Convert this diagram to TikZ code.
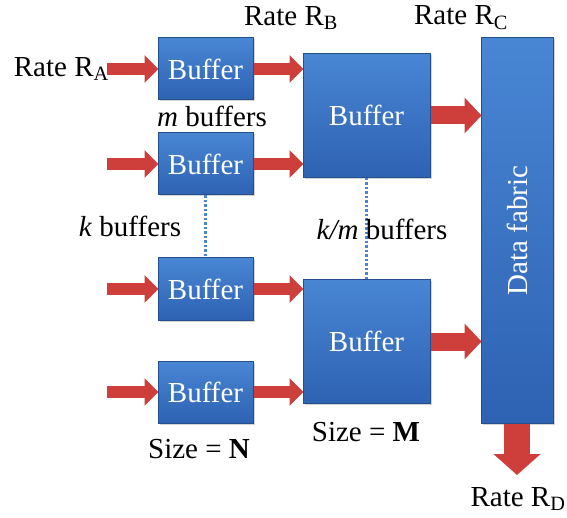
\documentclass[tikz,border=0pt]{standalone}
\usepackage{fontspec}
\setmainfont{Liberation Serif}
\usetikzlibrary{arrows.meta, shadows}

\definecolor{boxtop}{RGB}{72,134,212}
\definecolor{boxbot}{RGB}{46,98,178}
\definecolor{boxline}{RGB}{36,78,140}
\definecolor{flowred}{RGB}{206,62,58}

\begin{document}
\begin{tikzpicture}[x=1pt,y=-1pt,font=\fontsize{29}{32}\selectfont]

\tikzset{buffer/.style = {rectangle, draw=boxline, line width=1pt, top color=boxtop, bottom color=boxbot,
  text=white, minimum width=95pt, minimum height=62pt, inner sep=0pt, drop shadow={opacity=0.35, shadow xshift=1.5pt, shadow yshift=-1.5pt}}}
\tikzset{bigbuffer/.style = {buffer, minimum width=127pt, minimum height=124pt}}
\tikzset{flow/.style = {draw=flowred, line width=12pt, -{Triangle[length=14pt, width=27pt]}, shorten >=-1pt}}
\tikzset{bigflow/.style = {flow, line width=18pt, -{Triangle[length=17pt, width=35pt]}}}
\tikzset{gap/.style = {draw=boxtop, line width=2.5pt, dash pattern=on 2.5pt off 2pt}}

\useasboundingbox (0,0) rectangle (567,518);

%buffers
\node[buffer] (b1) at (205.5,69) {Buffer};
\node[buffer] (b2) at (205.5,164) {Buffer};
\node[buffer] (b3) at (205.5,289) {Buffer};
\node[buffer] (b4) at (205.5,392) {Buffer};
\node[bigbuffer] (l1) at (366.5,115.5) {Buffer};
\node[bigbuffer] (l2) at (366.5,341.5) {Buffer};
\node[buffer, minimum width=72pt, minimum height=385pt] (fab) at (517,230.5) {\rotatebox{90}{Data fabric}};

%free ends
\coordinate (in1) at (107,69);
\coordinate (in2) at (107,164);
\coordinate (in3) at (107,289);
\coordinate (in4) at (107,392);
\coordinate (out) at (517,474);

%edges
\foreach \b/\i in {b1/in1, b2/in2, b3/in3, b4/in4}
  \draw[flow] (\i) -- (\b.west);
\foreach \b/\l in {b1/l1, b2/l1, b3/l2, b4/l2}
  \draw[flow] (\b.east) -- (\b.east -| \l.west);
\draw[bigflow] (l1.east) -- (l1.east -| fab.west);
\draw[bigflow] (l2.east) -- (l2.east -| fab.west);
\draw[flow, line width=26pt, -{Triangle[length=21pt, width=46pt]}] (fab.south) -- (out);
\draw[gap] (b2.south) -- (b3.north);
\draw[gap] (l1.south) -- (l2.north);

%labels
\node[anchor=east, inner sep=0pt] (ra) at ([xshift=2pt]in1) {Rate R\textsubscript{A}};
\node (rb) at (291,18) {Rate R\textsubscript{B}};
\node (rc) at (461,18) {Rate R\textsubscript{C}};
\node (mb) at (212,116) {\textit{m} buffers};
\node (kb) at (130,226) {\textit{k} buffers};
\node (kmb) at (382,229) {\textit{k/m} buffers};
\node (sn) at (199,449) {Size = \textbf{N}};
\node (sm) at (366,432) {Size = \textbf{M}};
\node (rd) at (518,499) {Rate R\textsubscript{D}};

\end{tikzpicture}
\end{document}
